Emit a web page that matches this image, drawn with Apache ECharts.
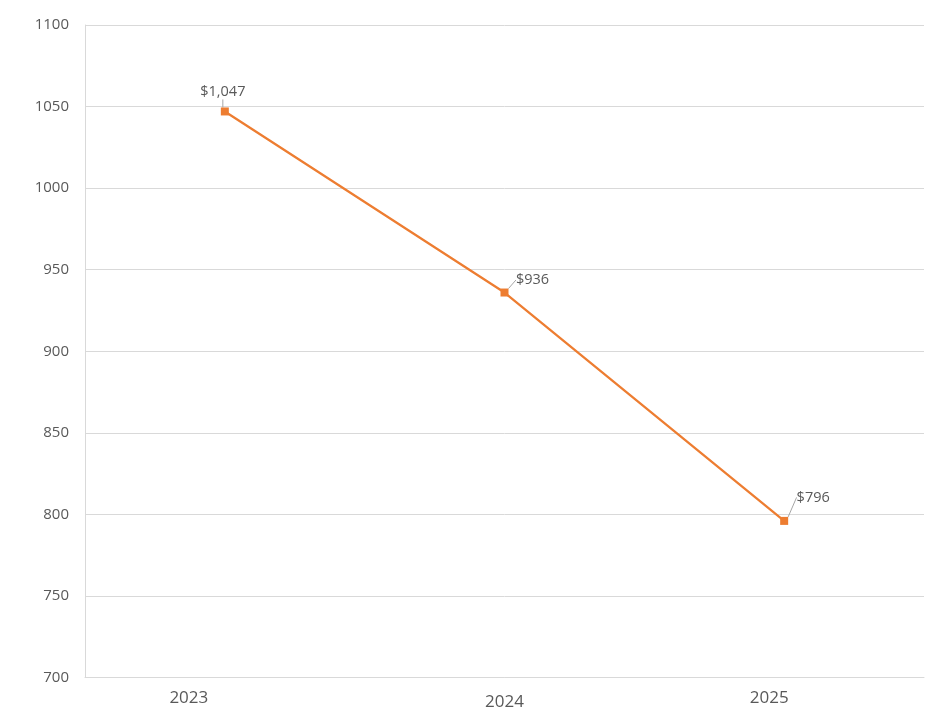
<!DOCTYPE html>
<html>
<head>
<meta charset="utf-8">
<script src="https://cdn.jsdelivr.net/npm/echarts@6/dist/echarts.min.js"></script>
<style>
  html, body { margin: 0; padding: 0; background: #ffffff; }
  #chart { width: 936px; height: 720px; }
</style>
</head>
<body>
<div id="chart"></div>
<script>
const categories = ['2023', '2024', '2025'];
const values = [1047, 936, 796];
const yTicks = { min: 700, max: 1100, interval: 50 };

const chart = echarts.init(document.getElementById('chart'), null, { renderer: 'canvas' });

const labelShift = {
  '2023': { pr: 72, pt: 0 },
  '2024': { pr: 0, pt: 4 },
  '2025': { pr: 30, pt: 0 }
};
const rich = {};
categories.forEach(function (c) {
  rich['c' + c] = {
    fontFamily: 'Open Sans',
    fontSize: 17,
    color: '#595959',
    padding: [labelShift[c].pt, labelShift[c].pr, 0, 0]
  };
});

const labelMoves = [
  { dx: -2, dy: -3 },
  { dx: 28, dy: 4 },
  { dx: 29, dy: -7 }
];

chart.setOption({
  animation: false,
  grid: { left: 85, right: 12, top: 25, bottom: 42.5 },
  xAxis: {
    type: 'category',
    data: categories,
    boundaryGap: true,
    axisLine: { show: true, lineStyle: { color: '#d9d9d9', width: 1 } },
    axisTick: { show: false },
    axisLabel: {
      margin: 12,
      formatter: function (v) { return '{c' + v + '|' + v + '}'; },
      rich: rich
    },
    splitLine: { show: false }
  },
  yAxis: {
    type: 'value',
    min: yTicks.min,
    max: yTicks.max,
    interval: yTicks.interval,
    axisLine: { show: true, lineStyle: { color: '#d9d9d9', width: 1 } },
    axisTick: { show: false },
    axisLabel: {
      margin: 16, color: '#595959', fontSize: 15, fontFamily: 'Open Sans',
      formatter: function (v) { return String(v); }
    },
    splitLine: { show: true, lineStyle: { color: '#d9d9d9', width: 1 } }
  },
  series: [{
    type: 'line',
    data: values,
    symbol: 'rect',
    symbolSize: 8,
    lineStyle: { color: '#ED7D31', width: 2.25 },
    itemStyle: { color: '#ED7D31' },
    label: {
      show: true,
      position: 'top',
      distance: 5,
      color: '#595959',
      fontSize: 14.5,
      fontFamily: 'Open Sans',
      formatter: function (p) { return '$' + p.value.toLocaleString('en-US'); }
    },
    labelLine: { show: true, lineStyle: { color: '#a6a6a6', width: 1 } },
    labelLayout: function (params) {
      const m = labelMoves[params.dataIndex];
      return { dx: m.dx, dy: m.dy };
    }
  }]
});
</script>
</body>
</html>
